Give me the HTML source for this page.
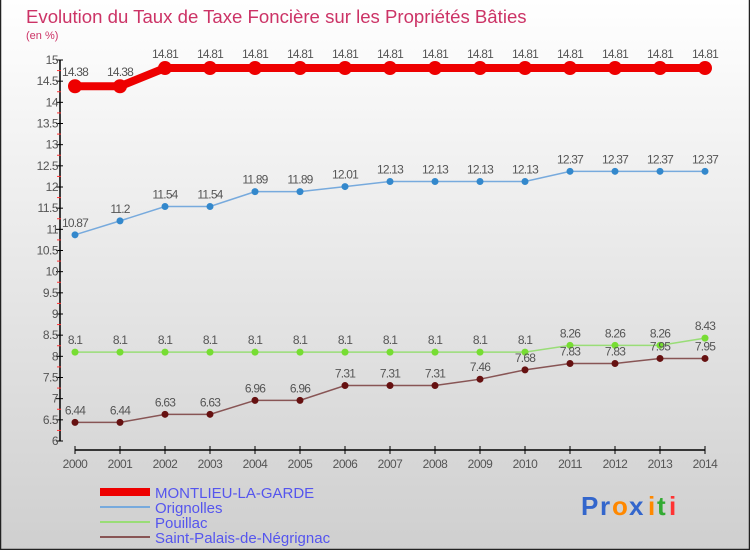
<!DOCTYPE html>
<html><head><meta charset="utf-8"><style>
html,body{margin:0;padding:0;}
body{width:750px;height:550px;overflow:hidden;font-family:"Liberation Sans",sans-serif;}
svg text{font-family:"Liberation Sans",sans-serif;}
</style></head><body>
<svg id="chart" width="750" height="550" viewBox="0 0 750 550">
<defs><linearGradient id="bg" x1="0" y1="0" x2="0" y2="1"><stop offset="0" stop-color="#ffffff"/><stop offset="1" stop-color="#cfcfcf"/></linearGradient></defs>
<rect x="0" y="0" width="750" height="550" fill="url(#bg)"/>
<path d="M0.5 0 V549.5 H749.5 V0" fill="none" stroke="#222" stroke-width="1.5"/>
<text x="26" y="23" font-size="18.6" fill="#cc3366">Evolution du Taux de Taxe Foncière sur les Propriétés Bâties</text>
<text x="26" y="39" font-size="11" fill="#cc3366">(en %)</text>
<g id="axes"></g>
<g id="series"></g>
<g id="legend"></g>
<g font-size="26" font-weight="bold">
<text x="581" y="515" fill="#3366cc">P</text><text x="600" y="515" fill="#3366cc">r</text><text x="612" y="515" fill="#ff8800">o</text><text x="629" y="515" fill="#3366cc">x</text><text x="648" y="515" fill="#ff8800">i</text><text x="657" y="515" fill="#33aa33">t</text><text x="669" y="515" fill="#ff3333">i</text>
</g>
</svg>
<script>
const years=[2000,2001,2002,2003,2004,2005,2006,2007,2008,2009,2010,2011,2012,2013,2014];
const montlieu=[14.38,14.38,14.81,14.81,14.81,14.81,14.81,14.81,14.81,14.81,14.81,14.81,14.81,14.81,14.81];
const orignolles=[10.87,11.2,11.54,11.54,11.89,11.89,12.01,12.13,12.13,12.13,12.13,12.37,12.37,12.37,12.37];
const pouillac=[8.1,8.1,8.1,8.1,8.1,8.1,8.1,8.1,8.1,8.1,8.1,8.26,8.26,8.26,8.43];
const saintPalais=[6.44,6.44,6.63,6.63,6.96,6.96,7.31,7.31,7.31,7.46,7.68,7.83,7.83,7.95,7.95];
const seriesNames=["MONTLIEU-LA-GARDE","Orignolles","Pouillac","Saint-Palais-de-Négrignac"];
const yTicks=[6,6.5,7,7.5,8,8.5,9,9.5,10,10.5,11,11.5,12,12.5,13,13.5,14,14.5,15];
const NS="http://www.w3.org/2000/svg";
const yMin=6,yMax=15,yTop=60,yBot=441,xL=75,xR=705;
function X(i){return xL+(xR-xL)*i/(years.length-1);}
function Y(v){return yBot-(v-yMin)/(yMax-yMin)*(yBot-yTop);}
function mk(tag,attrs,parent){const e=document.createElementNS(NS,tag);for(const k in attrs)e.setAttribute(k,attrs[k]);parent.appendChild(e);return e;}
const axes=document.getElementById('axes');
let yl=mk('line',{x1:60,y1:yTop,x2:60,y2:yBot,stroke:'#000','stroke-width':1.5},axes);


yTicks.forEach(t=>{
 const y=Y(t);
 const tk=mk('line',{x1:56,y1:y,x2:63,y2:y,stroke:'#000'},axes);
 
 
 const tx=mk('text',{x:58,y:y+4,'font-size':12,fill:'#555','text-anchor':'end','letter-spacing':'-0.5'},axes);
 tx.textContent=String(t);
 
 
 if(t<yMax){const m=mk('line',{x1:57,y1:Y(t+0.25),x2:61,y2:Y(t+0.25),stroke:'#ff3333'},axes);
 
 }
});
let xl=mk('line',{x1:xL,y1:450,x2:xR,y2:450,stroke:'#000','stroke-width':1.5},axes);


years.forEach((yr,i)=>{
 const tk=mk('line',{x1:X(i),y1:446,x2:X(i),y2:454,stroke:'#000'},axes);
 
 
 const tx=mk('text',{x:X(i),y:468,'font-size':12,fill:'#555','text-anchor':'middle','letter-spacing':'-0.5'},axes);
 tx.textContent=String(yr);
 
 
});
const sg=document.getElementById('series');
const defs=[
 {d:montlieu,line:'#ee0000',lw:8,dot:'#ee0000',r:7,key:'montlieu'},
 {d:orignolles,line:'#77aadd',lw:1.5,dot:'#3388cc',r:3.5,key:'orignolles'},
 {d:pouillac,line:'#99dd77',lw:1.5,dot:'#77dd33',r:3.5,key:'pouillac'},
 {d:saintPalais,line:'#885555',lw:1.5,dot:'#661111',r:3.5,key:'saint-palais'}];
defs.forEach(s=>{
 const g=mk('g',{},sg);
 
 
 const pl=mk('polyline',{points:s.d.map((v,i)=>X(i)+','+Y(v)).join(' '),fill:'none',stroke:s.line,'stroke-width':s.lw},g);
 
 
 s.d.forEach((v,i)=>{
  const c=mk('circle',{cx:X(i),cy:Y(v),r:s.r,fill:s.dot},g);
  
  
  const t=mk('text',{x:X(i),y:Y(v)-(s.r>5?10:8),'font-size':12,fill:'#555','text-anchor':'middle','letter-spacing':'-0.8'},g);
  t.textContent=String(v);
  
  
 });
});
const lg=document.getElementById('legend');
defs.forEach((s,i)=>{
 const y=492+i*15;
 const l=mk('line',{x1:100,y1:y,x2:150,y2:y,stroke:s.line,'stroke-width':s.lw>5?8:2},lg);
 
 
 const t=mk('text',{x:155,y:y+6,'font-size':15,fill:'#5555ee'},lg);
 t.textContent=seriesNames[i];
 
 
});
</script>
</body></html>
